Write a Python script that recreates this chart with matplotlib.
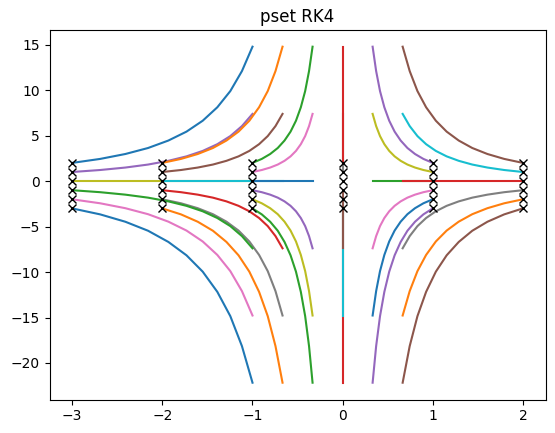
import numpy as np
import matplotlib
matplotlib.use("Agg")
import matplotlib.pyplot as plt

# starting points (grid)
x_starts = [-3, -2, -1, 0, 1, 2]
y_starts = [-3, -2, -1, 0, 1, 2]

# shared trajectory profile (relative to the start point)
x_profile = [1.000, 0.896, 0.803, 0.719, 0.644, 0.577, 0.517, 0.463, 0.415, 0.372, 0.333]
y_profile = [1.00, 1.22, 1.49, 1.82, 2.23, 2.72, 3.32, 4.06, 4.95, 6.05, 7.39]

fig = plt.figure(figsize=(5.55, 4.33), dpi=100)
ax = fig.add_axes([49.5 / 555, 33.5 / 433, 496.0 / 555, 369.6 / 433])

xp = np.array(x_profile)
yp = np.array(y_profile)
for y0 in y_starts:
    for x0 in x_starts:
        ax.plot(x0 * xp, y0 * yp)

for y0 in y_starts:
    for x0 in x_starts:
        ax.plot(x0, y0, 'kx')

ax.set_title("pset RK4")
fig.savefig("out.png", dpi=100)
